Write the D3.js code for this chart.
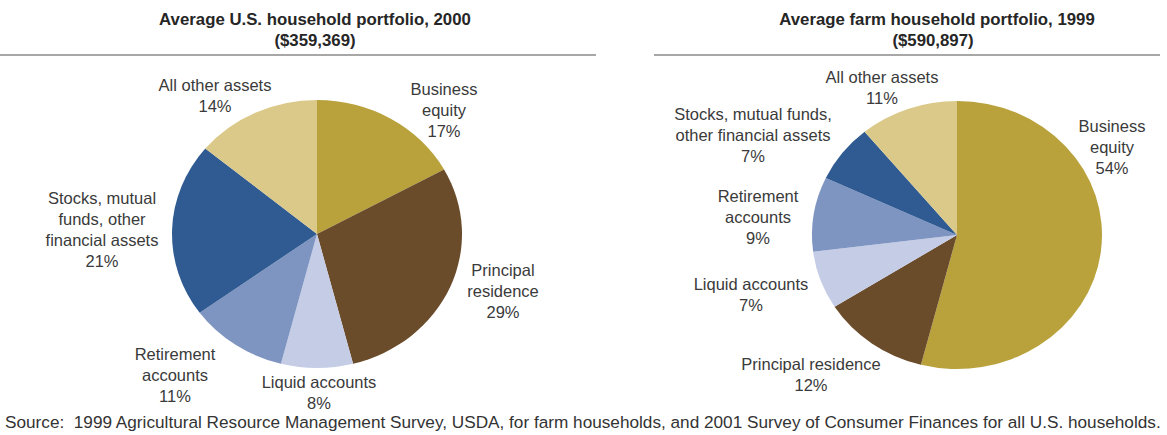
<!DOCTYPE html>
<html>
<head>
<meta charset="utf-8">
<script src="https://cdn.jsdelivr.net/npm/d3@7"></script>
<style>
  html, body { margin: 0; padding: 0; background: #fff; }
  svg { display: block; }
  text { font-family: "Liberation Sans", Arial, sans-serif; white-space: pre; }
</style>
</head>
<body>
<svg id="chart" width="1167" height="435"></svg>
<script>
// ---- Data ----
const categories = ["Business equity", "Principal residence", "Liquid accounts",
                    "Retirement accounts", "Stocks, mutual funds, other financial assets", "All other assets"];
const usValues = [17, 29, 8, 11, 21, 14];
const farmValues = [54, 12, 7, 9, 7, 11];
const usTitle = ["Average U.S. household portfolio, 2000", "($359,369)"];
const farmTitle = ["Average farm household portfolio, 1999", "($590,897)"];
const usLabelLines = [
  ["Business", "equity", "17%"],
  ["Principal", "residence", "29%"],
  ["Liquid accounts", "8%"],
  ["Retirement", "accounts", "11%"],
  ["Stocks, mutual", "funds, other", "financial assets", "21%"],
  ["All other assets", "14%"]
];
const farmLabelLines = [
  ["Business", "equity", "54%"],
  ["Principal residence", "12%"],
  ["Liquid accounts", "7%"],
  ["Retirement", "accounts", "9%"],
  ["Stocks, mutual funds,", "other financial assets", "7%"],
  ["All other assets", "11%"]
];
const sourceNote = "Source:  1999 Agricultural Resource Management Survey, USDA, for farm households, and 2001 Survey of Consumer Finances for all U.S. households.";

// ---- Styles / layout ----
const colors = ["#b9a23c", "#6a4c2b", "#c4cce6", "#7f95c1", "#2f5b92", "#dbc989"];
const colorScale = d3.scaleOrdinal().domain(categories).range(colors);

// label anchor positions (center x, first baseline y)
const usLabelPos = [[444, 95], [503, 276], [319, 388], [175, 360], [102, 204], [215, 91]];
const farmLabelPos = [[1112, 132], [811, 370], [751, 290], [758, 202], [753, 120], [882, 83]];

const svg = d3.select("#chart");

function drawPanel(opts) {
  const g = svg.append("g");
  // title
  const t = g.append("text").attr("text-anchor", "middle")
    .attr("font-size", 16.8).attr("font-weight", "bold").attr("fill", "#262626");
  t.append("tspan").attr("x", opts.titleX).attr("y", 25).text(opts.title[0]);
  t.append("tspan").attr("x", opts.titleX2).attr("y", 46).text(opts.title[1]);
  // rule
  g.append("line").attr("x1", opts.ruleX[0]).attr("x2", opts.ruleX[1])
    .attr("y1", 55).attr("y2", 55).attr("stroke", "#8a8a8a").attr("stroke-width", 1.5);

  // pie (ellipse)
  const pie = d3.pie().sort(null).value(d => d.v);
  const data = pie(categories.map((c, i) => ({c, v: opts.values[i]})));
  const arc = d3.arc().innerRadius(0).outerRadius(opts.rx);
  const pg = g.append("g")
    .attr("transform", `translate(${opts.cx},${opts.cy}) scale(1,${opts.ry / opts.rx})`);
  pg.selectAll("path").data(data).join("path")
    .attr("d", arc)
    .attr("fill", d => colorScale(d.data.c));

  // labels
  opts.labels.forEach((lines, i) => {
    const [x, y] = opts.labelPos[i];
    const lt = g.append("text").attr("text-anchor", "middle")
      .attr("font-size", 16.5).attr("fill", "#3a3a3a");
    lines.forEach((ln, j) => {
      lt.append("tspan").attr("x", x).attr("y", y + j * 21).text(ln);
    });
  });
}

drawPanel({
  title: usTitle, titleX: 315, titleX2: 315, ruleX: [0, 596],
  values: usValues, cx: 317, cy: 234, rx: 145, ry: 134,
  labels: usLabelLines, labelPos: usLabelPos
});
drawPanel({
  title: farmTitle, titleX: 937, titleX2: 933, ruleX: [654, 1160],
  values: farmValues, cx: 957, cy: 235, rx: 145, ry: 134,
  labels: farmLabelLines, labelPos: farmLabelPos
});

svg.append("text").attr("x", 5).attr("y", 428)
  .attr("font-size", 17.2).attr("fill", "#333")
  .text(sourceNote);
</script>
</body>
</html>
